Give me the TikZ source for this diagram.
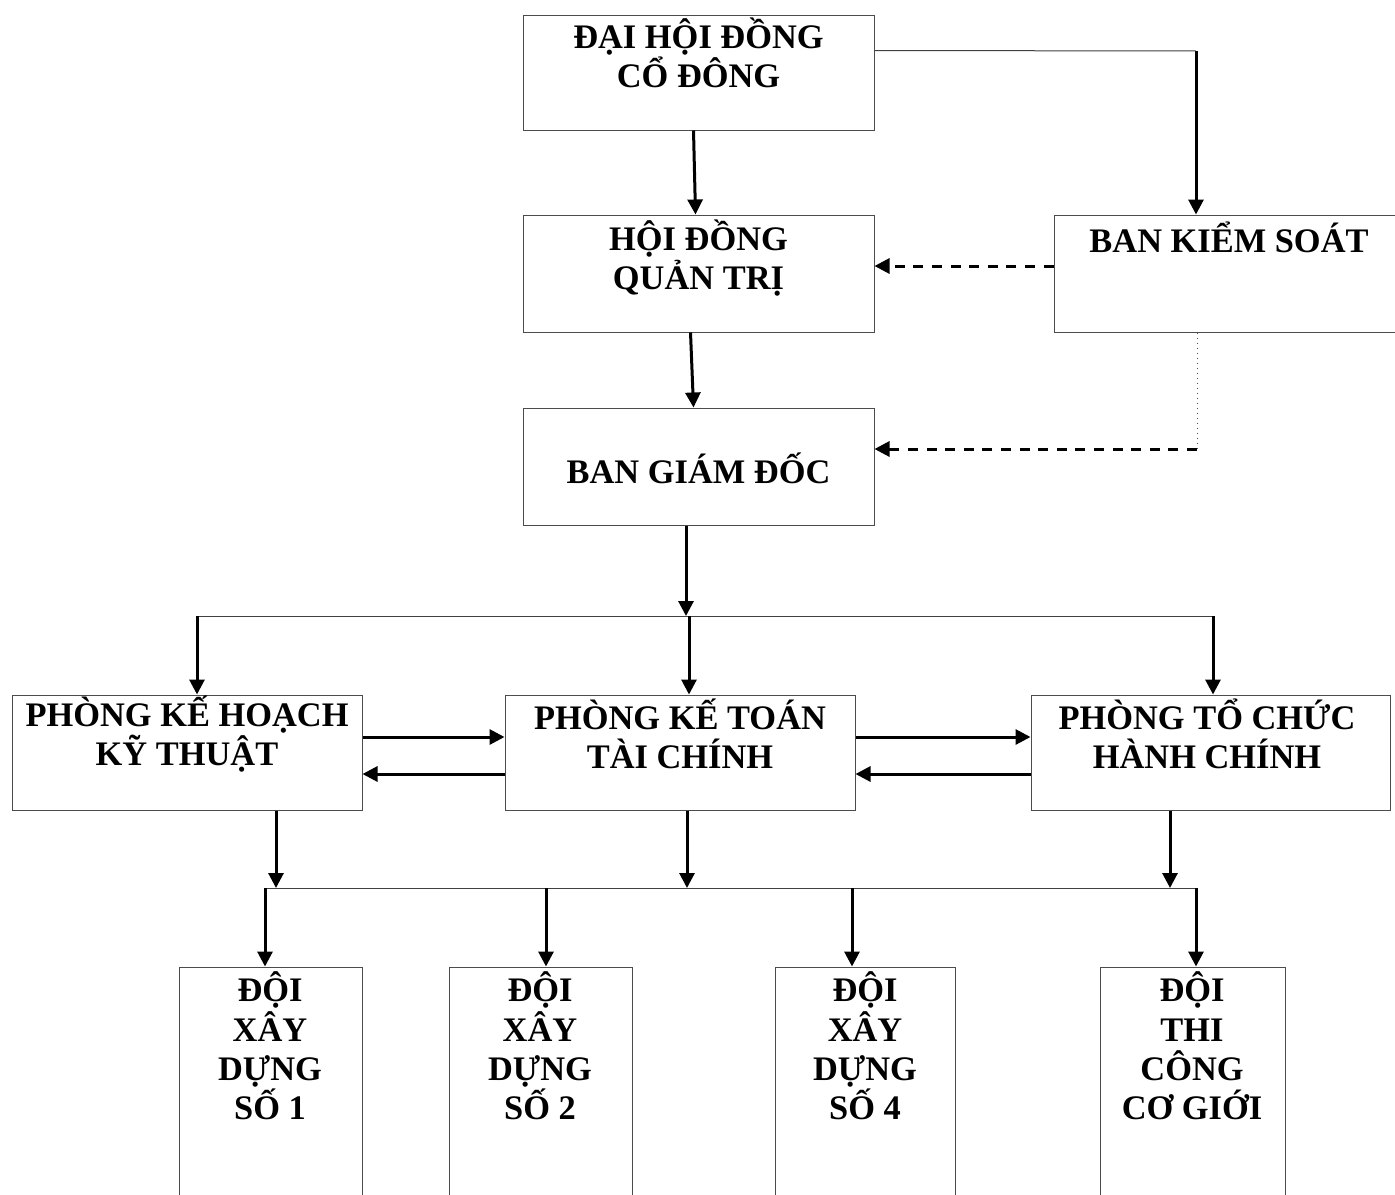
\documentclass[tikz,border=0pt]{standalone}
\usepackage{fontspec}
\setmainfont{Liberation Serif}
\usetikzlibrary{arrows.meta,calc}
\tikzset{
  box/.style={draw=black!70, line width=0.5pt, rectangle, inner sep=0pt},
  lbl/.style={align=center, font=\fontsize{17.2pt}{19.6pt}\selectfont\bfseries, inner sep=0pt},
  arr/.style={line width=1.5pt, -{Triangle[length=7.5pt,width=7.5pt]}},
  thinline/.style={line width=0.5pt, draw=black!75},
  dasharr/.style={line width=1.5pt, dash pattern=on 5pt off 4.3pt, -{Triangle[length=7.5pt,width=7.5pt]}},
  dotline/.style={line width=0.5pt, draw=black!70, dotted}
}
\begin{document}
\begin{tikzpicture}[x=0.5pt,y=-0.5pt]
\useasboundingbox[fill=white] (0,0) rectangle (1395,1194);
\clip (0,0) rectangle (1395,1194);
% boxes
\node[box, minimum width=175.5pt, minimum height=57.5pt] (dh) at (698.5,72.5) {};
\node[box, minimum width=175.5pt, minimum height=58.5pt] (hd) at (698.5,273.5) {};
\node[box, minimum width=173pt, minimum height=58.5pt] (bks) at (1227,273.5) {};
\node[box, minimum width=175.5pt, minimum height=58.5pt] (bgd) at (698.5,466.5) {};
\node[box, minimum width=175pt, minimum height=57.5pt] (pk1) at (187,752.5) {};
\node[box, minimum width=175pt, minimum height=57.5pt] (pk2) at (680,752.5) {};
\node[box, minimum width=179.5pt, minimum height=57.5pt] (pk3) at (1210.5,752.5) {};
\node[box, minimum width=91.5pt, minimum height=126.5pt] (d1) at (270.5,1093.5) {};
\node[box, minimum width=91.5pt, minimum height=126.5pt] (d2) at (540.5,1093.5) {};
\node[box, minimum width=90pt, minimum height=126.5pt] (d3) at (865,1093.5) {};
\node[box, minimum width=92.5pt, minimum height=126.5pt] (d4) at (1192.5,1093.5) {};
% labels
\node[lbl] (dht) at (698.5,53) {ĐẠI HỘI ĐỒNG\\CỔ ĐÔNG};
\node[lbl] (hdt) at (698.5,258) {HỘI ĐỒNG\\QUẢN TRỊ};
\node[lbl] (bkst) at (1229,237) {BAN KIỂM SOÁT};
\node[lbl] (bgdt) at (698.5,468) {BAN GIÁM ĐỐC};
\node[lbl] (pk1t) at (187,734) {PHÒNG KẾ HOẠCH\\KỸ THUẬT};
\node[lbl] (pk2t) at (680,734) {PHÒNG KẾ TOÁN\\TÀI CHÍNH};
\node[lbl] (pk3t) at (1207,734) {PHÒNG TỔ CHỨC\\HÀNH CHÍNH};
\node[lbl] (d1t) at (270,1046) {ĐỘI\\XÂY\\DỰNG\\SỐ 1};
\node[lbl] (d2t) at (540,1046) {ĐỘI\\XÂY\\DỰNG\\SỐ 2};
\node[lbl] (d3t) at (865,1046) {ĐỘI\\XÂY\\DỰNG\\SỐ 4};
\node[lbl] (d4t) at (1192,1046) {ĐỘI\\THI\\CÔNG\\CƠ GIỚI};
% top connectors
\coordinate (j1) at (1196,51);
\draw[thinline] (dh.north east) ++(0,36) -- (j1);
\draw[arr] (j1) -- (j1 |- bks.north);
\draw[arr] ($(dh.south)+(-5,0)$) -- ($(hd.north)+(-3,0)$);
\draw[dasharr] ($(bks.west)+(0,-7.5)$) -- ($(hd.east)+(0,-7.5)$);
\coordinate (j2) at (1197,449);
\draw[dotline] (bks.south -| j2) -- (j2);
\draw[dasharr] (j2) -- (bgd.east |- j2);
\draw[arr] ($(hd.south)+(-8,0)$) -- ($(bgd.north)+(-5,0)$);
% bus 1
\coordinate (b1) at (686,616);
\draw[arr] (bgd.south -| b1) -- (b1);
\coordinate (bL) at (197,616);
\coordinate (bM) at (689,616);
\coordinate (bR) at (1213,616);
\draw[thinline] (bL) -- (bR);
\draw[arr] (bL) -- (bL |- pk1.north);
\draw[arr] (bM) -- (bM |- pk2.north);
\draw[arr] (bR) -- (bR |- pk3.north);
% horizontal pairs
\draw[arr] ($(pk1.east)+(0,-15.5)$) -- ($(pk2.west)+(0,-15.5)$);
\draw[arr] ($(pk2.west)+(0,21.5)$) -- ($(pk1.east)+(0,21.5)$);
\draw[arr] ($(pk2.east)+(0,-15.5)$) -- ($(pk3.west)+(0,-15.5)$);
\draw[arr] ($(pk3.west)+(0,21.5)$) -- ($(pk2.east)+(0,21.5)$);
% bus 2
\coordinate (k1) at (276,888);
\coordinate (k2) at (687,888);
\coordinate (k3) at (1170,888);
\draw[arr] (pk1.south -| k1) -- (k1);
\draw[arr] (pk2.south -| k2) -- (k2);
\draw[arr] (pk3.south -| k3) -- (k3);
\coordinate (cL) at (265,888);
\coordinate (e2) at (546,888);
\coordinate (e3) at (852,888);
\coordinate (cR) at (1196,888);
\draw[thinline] (cL) -- (cR);
\draw[arr] (cL) -- (cL |- d1.north);
\draw[arr] (e2) -- (e2 |- d2.north);
\draw[arr] (e3) -- (e3 |- d3.north);
\draw[arr] (cR) -- (cR |- d4.north);
\end{tikzpicture}
\end{document}
